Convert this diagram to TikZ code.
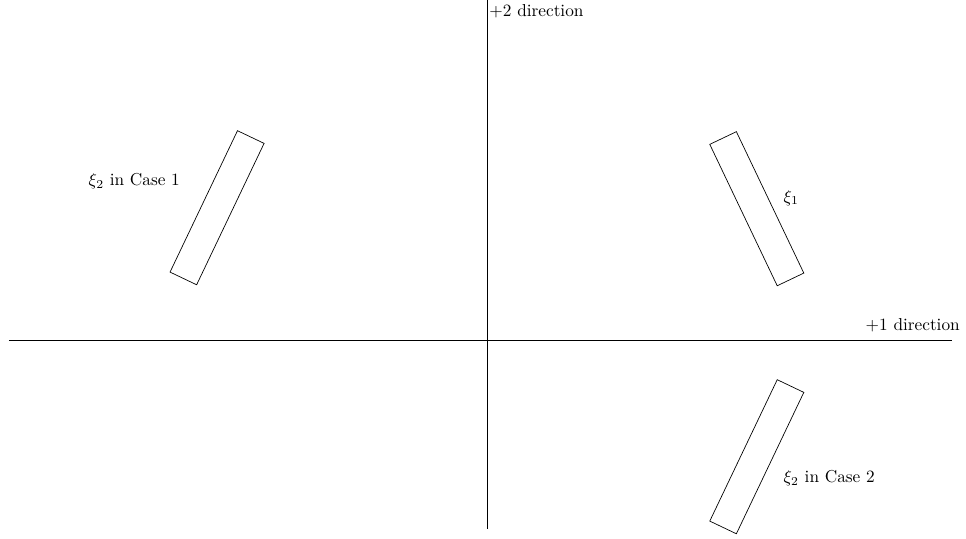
\documentclass[tikz,border=0pt]{standalone}
\usepackage{amsmath,amssymb}
\usepackage{tikz}
\usetikzlibrary{positioning}

\begin{document}
\begin{tikzpicture}[
    bar/.style={rectangle, draw, minimum width=3.19cm, minimum height=0.6cm, inner sep=0pt},
    tag/.style={inner sep=0pt, anchor=base west}]
    \useasboundingbox (-9.93,-4.02) rectangle (9.74,6.94);
    % axes
    \coordinate (west) at (-9.75,0);
    \coordinate (east) at (9.45,0);
    \coordinate (south) at (0,-3.83);
    \coordinate (north) at (0,6.94);
    \draw (west) -- (east);
    \draw (south) -- (north);
    \node[inner sep=0pt, anchor=base east] (dirone) at (9.62,0.22) {$+1$ direction};
    \node[tag] (dirtwo) at (0.03,6.61) {$+2$ direction};
    % the three bars
    \node[bar, rotate=-64.5] (xione) at (5.48,2.69) {};
    \node[bar, rotate=64.5] (xitwoa) at (-5.51,2.71) {};
    \node[bar, rotate=64.5] (xitwob) at (5.48,-2.36) {};
    \node[tag] (lxione) at (6.02,2.82) {$\xi_1$};
    \node[tag] (lxitwoa) at (-8.13,3.16) {$\xi_2$ in Case 1};
    \node[tag] (lxitwob) at (6.02,-2.89) {$\xi_2$ in Case 2};
  \end{tikzpicture}
\end{document}
